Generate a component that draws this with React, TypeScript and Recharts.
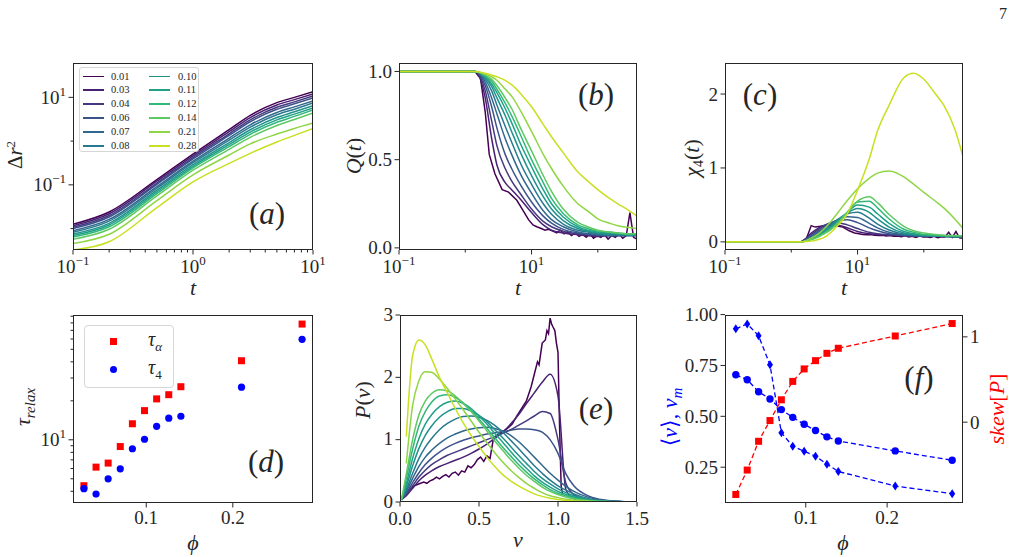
import React from 'react';
import {
    LineChart,
    Line,
    XAxis,
    YAxis,
    ScatterChart,
    Scatter,
    ComposedChart,
} from 'recharts';

const FONT = "'Liberation Serif', 'DejaVu Serif', serif";
const INK = '#262626';

// legend labels (packing fraction) and viridis colours
const phiLabels = ['0.01', '0.03', '0.04', '0.06', '0.07', '0.08', '0.10', '0.11', '0.12', '0.14', '0.21', '0.28'];
const curveColors = ['#440154', '#482173', '#45387f', '#3b528b', '#31668e', '#29798e', '#21918c', '#1fa187', '#32b67a', '#5ec962', '#8fd644', '#c8e020'];

// (a) mean square displacement, one row per phi
const tMsd = [0.1, 0.2, 0.5, 1, 2, 3, 5, 7, 10];
const msd = [
    [0.0126, 0.024, 0.132, 0.501, 1.82, 3.89, 7.59, 10.0, 13.5],
    [0.0116, 0.0218, 0.121, 0.459, 1.64, 3.45, 6.7, 8.87, 12.0],
    [0.0107, 0.0199, 0.11, 0.421, 1.47, 3.06, 5.92, 7.87, 10.7],
    [0.01, 0.0184, 0.103, 0.392, 1.35, 2.77, 5.33, 7.11, 9.71],
    [0.00895, 0.0162, 0.0912, 0.348, 1.17, 2.36, 4.52, 6.05, 8.32],
    [0.00826, 0.0148, 0.0836, 0.32, 1.05, 2.09, 3.99, 5.37, 7.41],
    [0.00752, 0.0132, 0.0753, 0.289, 0.927, 1.82, 3.45, 4.67, 6.47],
    [0.00692, 0.0121, 0.0689, 0.265, 0.834, 1.61, 3.05, 4.14, 5.75],
    [0.00638, 0.011, 0.0631, 0.243, 0.75, 1.43, 2.69, 3.67, 5.13],
    [0.00573, 0.00968, 0.0561, 0.216, 0.65, 1.22, 2.28, 3.13, 4.4],
    [0.00454, 0.00741, 0.0437, 0.169, 0.481, 0.865, 1.45, 1.95, 2.6],
    [0.00324, 0.00501, 0.0302, 0.117, 0.309, 0.525, 0.955, 1.35, 1.95],
];

// (b), (c): the noisy phi = 0.01 run is sampled more densely
const tDark = [0.1, 1.4, 1.7, 2, 2.3, 2.8, 3.6, 4.5, 6, 7.5, 9, 10.5, 12, 14, 16, 18, 21, 24, 27, 31, 35, 40, 46, 52, 59, 67, 76, 86, 98, 111, 126, 143, 162, 184, 209, 237, 269, 305, 346, 390];
const overlapDark = [1, 1, 0.96, 0.77, 0.53, 0.42, 0.33, 0.316, 0.27, 0.21, 0.16, 0.13, 0.12, 0.11, 0.1, 0.105, 0.095, 0.085, 0.1, 0.08, 0.09, 0.07, 0.085, 0.065, 0.075, 0.06, 0.08, 0.055, 0.07, 0.06, 0.075, 0.05, 0.07, 0.06, 0.08, 0.055, 0.07, 0.2, 0.06, 0.05];
const chiDark = [0, 0, 0.05, 0.22, 0.2, 0.21, 0.22, 0.22, 0.2, 0.15, 0.12, 0.11, 0.1, 0.095, 0.1, 0.09, 0.085, 0.09, 0.08, 0.085, 0.075, 0.08, 0.07, 0.085, 0.065, 0.075, 0.06, 0.08, 0.065, 0.07, 0.06, 0.075, 0.055, 0.07, 0.065, 0.13, 0.06, 0.14, 0.055, 0.05];

// rows for phi = 0.03 ... 0.28
const tRelax = [0.1, 1.4, 2, 2.5, 3, 4, 5, 7, 10, 15, 20, 30, 50, 70, 100, 150, 200, 300, 390];
const overlap = [
    [1, 1, 0.85, 0.62, 0.47, 0.37, 0.33, 0.27, 0.2, 0.13, 0.1, 0.085, 0.075, 0.07, 0.065, 0.07, 0.07, 0.075, 0.075],
    [1, 1, 0.89, 0.72, 0.58, 0.45, 0.38, 0.3, 0.22, 0.15, 0.12, 0.095, 0.08, 0.075, 0.07, 0.07, 0.07, 0.07, 0.07],
    [1, 1, 0.92, 0.8, 0.68, 0.53, 0.45, 0.35, 0.26, 0.18, 0.14, 0.105, 0.085, 0.08, 0.075, 0.07, 0.07, 0.07, 0.07],
    [1, 1, 0.94, 0.85, 0.76, 0.62, 0.53, 0.41, 0.31, 0.21, 0.16, 0.12, 0.09, 0.08, 0.075, 0.07, 0.07, 0.07, 0.07],
    [1, 1, 0.955, 0.89, 0.81, 0.69, 0.6, 0.47, 0.36, 0.25, 0.19, 0.135, 0.1, 0.09, 0.08, 0.075, 0.075, 0.075, 0.075],
    [1, 1, 0.965, 0.915, 0.85, 0.75, 0.66, 0.53, 0.41, 0.29, 0.22, 0.155, 0.11, 0.095, 0.085, 0.08, 0.08, 0.075, 0.075],
    [1, 1, 0.97, 0.93, 0.88, 0.79, 0.71, 0.58, 0.46, 0.33, 0.25, 0.175, 0.12, 0.1, 0.09, 0.085, 0.08, 0.075, 0.075],
    [1, 1, 0.975, 0.945, 0.9, 0.82, 0.75, 0.63, 0.5, 0.37, 0.28, 0.195, 0.13, 0.11, 0.095, 0.09, 0.085, 0.08, 0.08],
    [1, 1, 0.98, 0.955, 0.92, 0.85, 0.79, 0.67, 0.55, 0.41, 0.32, 0.22, 0.145, 0.12, 0.1, 0.09, 0.085, 0.08, 0.08],
    [1, 1, 0.985, 0.97, 0.95, 0.9, 0.86, 0.77, 0.66, 0.53, 0.45, 0.35, 0.25, 0.21, 0.165, 0.14, 0.125, 0.115, 0.11],
    [1, 1, 0.99, 0.98, 0.97, 0.95, 0.925, 0.87, 0.8, 0.7, 0.63, 0.54, 0.43, 0.38, 0.33, 0.28, 0.25, 0.21, 0.18],
];
const chi4 = [
    [0, 0, 0.12, 0.18, 0.22, 0.24, 0.23, 0.19, 0.14, 0.11, 0.1, 0.09, 0.085, 0.08, 0.08, 0.075, 0.075, 0.07, 0.07],
    [0, 0, 0.1, 0.16, 0.21, 0.26, 0.26, 0.23, 0.18, 0.13, 0.11, 0.095, 0.085, 0.08, 0.08, 0.075, 0.075, 0.07, 0.07],
    [0, 0, 0.08, 0.14, 0.19, 0.26, 0.29, 0.3, 0.26, 0.19, 0.15, 0.11, 0.09, 0.085, 0.08, 0.075, 0.075, 0.07, 0.07],
    [0, 0, 0.07, 0.12, 0.17, 0.25, 0.3, 0.34, 0.33, 0.25, 0.19, 0.13, 0.095, 0.085, 0.08, 0.075, 0.075, 0.07, 0.07],
    [0, 0, 0.06, 0.1, 0.15, 0.23, 0.3, 0.38, 0.4, 0.32, 0.24, 0.16, 0.105, 0.09, 0.085, 0.08, 0.075, 0.07, 0.07],
    [0, 0, 0.05, 0.09, 0.13, 0.21, 0.29, 0.39, 0.45, 0.4, 0.31, 0.2, 0.12, 0.1, 0.09, 0.08, 0.08, 0.075, 0.075],
    [0, 0, 0.04, 0.08, 0.12, 0.19, 0.27, 0.4, 0.5, 0.47, 0.38, 0.25, 0.14, 0.11, 0.095, 0.085, 0.08, 0.075, 0.075],
    [0, 0, 0.035, 0.07, 0.11, 0.18, 0.26, 0.4, 0.54, 0.55, 0.46, 0.31, 0.17, 0.13, 0.1, 0.09, 0.085, 0.08, 0.08],
    [0, 0, 0.03, 0.06, 0.1, 0.17, 0.25, 0.4, 0.55, 0.61, 0.53, 0.37, 0.21, 0.15, 0.12, 0.1, 0.09, 0.085, 0.08],
    [0, 0, 0.05, 0.1, 0.16, 0.28, 0.39, 0.56, 0.72, 0.86, 0.93, 0.96, 0.88, 0.78, 0.67, 0.55, 0.46, 0.3, 0.18],
    [0, 0, 0.01, 0.03, 0.05, 0.13, 0.22, 0.38, 0.7, 1.12, 1.5, 1.85, 2.22, 2.28, 2.2, 2.0, 1.85, 1.5, 1.15],
];

// (d) relaxation times
const phiD = [0.028, 0.042, 0.056, 0.07, 0.084, 0.098, 0.112, 0.126, 0.14, 0.21, 0.28];
const tauAlpha = [4.42, 6.15, 6.61, 8.87, 13.3, 16.8, 20.7, 22.3, 25.7, 40.8, 78.3];
const tau4 = [4.19, 3.81, 5.0, 5.97, 8.53, 10.1, 12.7, 14.7, 15.2, 25.5, 59.7];

// (e) speed distributions; phi = 0.01 sampled more densely
const vDark = [0.01, 0.03, 0.05, 0.07, 0.09, 0.11, 0.13, 0.15, 0.17, 0.19, 0.21, 0.23, 0.25, 0.27, 0.29, 0.31, 0.33, 0.35, 0.37, 0.39, 0.41, 0.43, 0.45, 0.47, 0.49, 0.51, 0.53, 0.55, 0.57, 0.59, 0.62, 0.65, 0.68, 0.71, 0.74, 0.77, 0.8, 0.83, 0.85, 0.87, 0.88, 0.9, 0.92, 0.93, 0.94, 0.95, 0.96, 0.97, 0.98, 0.99, 1.0, 1.01, 1.02, 1.03];
const pdfDark = [0.03, 0.1, 0.17, 0.22, 0.26, 0.28, 0.3, 0.32, 0.3, 0.34, 0.36, 0.4, 0.37, 0.41, 0.44, 0.4, 0.46, 0.48, 0.43, 0.5, 0.48, 0.58, 0.55, 0.6, 0.68, 0.72, 0.65, 0.74, 0.7, 1.0, 1.08, 1.13, 1.18, 1.25, 1.38, 1.5, 1.62, 1.85, 2.05, 2.25, 2.2, 2.55, 2.6, 2.75, 2.7, 2.95, 2.85, 2.8, 2.75, 2.55, 2.4, 1.2, 0.25, 0.12];
const vGrid = [0.01, 0.04, 0.08, 0.12, 0.16, 0.2, 0.25, 0.3, 0.35, 0.4, 0.45, 0.5, 0.55, 0.6, 0.65, 0.7, 0.75, 0.8, 0.85, 0.9, 0.95, 1.0, 1.05, 1.1, 1.2, 1.3, 1.4, 1.5];
const speedPdf: (number | null)[][] = [
    [0.04, 0.1, 0.22, 0.34, 0.43, 0.5, 0.57, 0.62, 0.67, 0.72, 0.78, 0.85, 0.93, 1.02, 1.12, 1.25, 1.4, 1.58, 1.75, 1.92, 2.05, 1.7, 0.2, 0.05, 0.01, 0, 0, 0],
    [0.04, 0.12, 0.26, 0.4, 0.51, 0.6, 0.68, 0.75, 0.8, 0.85, 0.9, 0.95, 1.0, 1.05, 1.1, 1.16, 1.23, 1.3, 1.38, 1.45, 1.42, 1.0, 0.3, 0.12, 0.03, 0.01, 0, 0],
    [0.04, 0.14, 0.31, 0.47, 0.6, 0.7, 0.8, 0.88, 0.94, 0.99, 1.03, 1.06, 1.09, 1.11, 1.13, 1.15, 1.17, 1.17, 1.16, 1.12, 1.0, 0.78, 0.45, 0.26, 0.09, 0.03, 0.01, 0],
    [0.04, 0.17, 0.38, 0.57, 0.72, 0.83, 0.94, 1.03, 1.09, 1.14, 1.17, 1.19, 1.2, 1.18, 1.14, 1.07, 0.97, 0.85, 0.72, 0.59, 0.46, 0.35, 0.25, 0.17, 0.07, 0.025, 0.008, 0],
    [0.04, 0.2, 0.46, 0.7, 0.88, 1.02, 1.16, 1.26, 1.33, 1.37, 1.38, 1.36, 1.31, 1.23, 1.12, 0.99, 0.86, 0.72, 0.58, 0.46, 0.35, 0.26, 0.19, 0.13, 0.05, 0.018, 0.006, 0],
    [0.04, 0.25, 0.58, 0.86, 1.07, 1.22, 1.36, 1.45, 1.5, 1.5, 1.46, 1.39, 1.29, 1.16, 1.03, 0.89, 0.75, 0.62, 0.49, 0.38, 0.29, 0.21, 0.15, 0.1, 0.04, 0.014, 0.005, 0],
    [0.04, 0.3, 0.7, 1.02, 1.25, 1.4, 1.53, 1.6, 1.62, 1.58, 1.5, 1.38, 1.25, 1.1, 0.96, 0.81, 0.67, 0.54, 0.42, 0.32, 0.24, 0.17, 0.12, 0.08, 0.03, 0.011, 0.004, 0],
    [0.04, 0.38, 0.85, 1.22, 1.45, 1.6, 1.7, 1.72, 1.68, 1.59, 1.47, 1.33, 1.18, 1.03, 0.88, 0.74, 0.6, 0.48, 0.37, 0.28, 0.2, 0.14, 0.1, 0.065, 0.025, 0.009, 0.003, 0],
    [0.04, 0.45, 1.0, 1.4, 1.62, 1.74, 1.8, 1.78, 1.7, 1.58, 1.45, 1.3, 1.14, 0.98, 0.83, 0.68, 0.55, 0.43, 0.33, 0.24, 0.17, 0.12, 0.08, 0.05, 0.02, 0.007, 0.002, 0],
    [null, 0.62, 1.55, 1.95, 2.09, 2.08, 1.97, 1.82, 1.65, 1.48, 1.3, 1.12, 0.95, 0.79, 0.64, 0.51, 0.4, 0.3, 0.22, 0.15, 0.1, 0.07, 0.045, 0.03, 0.012, 0.004, 0.001, 0],
    [null, 1.05, 2.35, 2.6, 2.52, 2.3, 2.0, 1.75, 1.5, 1.27, 1.07, 0.89, 0.72, 0.57, 0.44, 0.34, 0.26, 0.19, 0.13, 0.09, 0.06, 0.04, 0.025, 0.015, 0.006, 0.002, 0.001, 0],
];

// (f) mean speed, modal speed and skewness
const phiF = [0.014, 0.028, 0.042, 0.056, 0.07, 0.084, 0.098, 0.112, 0.126, 0.14, 0.21, 0.28];
const vMean = [0.704, 0.68, 0.621, 0.585, 0.533, 0.495, 0.461, 0.43, 0.399, 0.379, 0.33, 0.284];
const vMode = [0.93, 0.954, 0.896, 0.753, 0.419, 0.353, 0.328, 0.304, 0.265, 0.229, 0.157, 0.12];
const skewP = [-0.847, -0.561, -0.224, 0.019, 0.262, 0.478, 0.624, 0.721, 0.807, 0.866, 1.01, 1.156];

type Row = Record<string, number | null>;
// series k goes to key s{k + first}
const toRows = (xs: number[], series: (number | null)[][], first = 0): Row[] =>
    xs.map((x, i) => {
        const r: Row = { x };
        series.forEach((s, k) => {
            r['s' + (k + first)] = s[i];
        });
        return r;
    });
const pairRows = (xs: number[], ys: number[]) => xs.map((x, i) => ({ x, y: ys[i] }));

const msdRows = toRows(tMsd, msd);
const overlapRows = toRows(tRelax, overlap, 1);
const chiRows = toRows(tRelax, chi4, 1);
const pdfRows = toRows(vGrid, speedPdf, 1);
const fRows = phiF.map((x, i) => ({ x, mean: vMean[i], mode: vMode[i], skew: skewP[i] }));

// plot boxes in page pixels
type Box = { left: number; top: number; width: number; height: number };
const boxA: Box = { left: 73, top: 63, width: 240, height: 187 };
const boxB: Box = { left: 399, top: 63, width: 238, height: 187 };
const boxC: Box = { left: 725, top: 63, width: 238, height: 187 };
const boxD: Box = { left: 73, top: 315, width: 240, height: 188 };
const boxE: Box = { left: 400, top: 315, width: 237, height: 187 };
const boxF: Box = { left: 725, top: 315, width: 238, height: 188 };

// axes are 1px wide/high (a 0 size axis is not drawn), margins absorb that pixel
const PAD = 60;
const marginFor = (rightAxis = false) => ({ top: 10, right: rightAxis ? PAD - 1 : PAD, bottom: 39, left: PAD - 1 });

const logLabel = (v: number) => {
    const e = Math.round(Math.log10(v));
    return (
        <>
            <tspan>10</tspan>
            <tspan dy={-8} fontSize={13}>{e < 0 ? '\u2212' + -e : String(e)}</tspan>
        </>
    );
};
const fixed = (d: number) => (v: number) => v.toFixed(d);

// drop: baseline offset of bottom labels; lift: baseline offset of side labels
const makeTick = (side: 'bottom' | 'left' | 'right', label: (v: number) => React.ReactNode, majors?: number[], drop = 21, lift = 6.5) =>
    (props: any) => {
        const { x, y, payload } = props;
        const v = payload.value as number;
        const isMajor = !majors || majors.some((m) => Math.abs(m - v) < 1e-9);
        const len = isMajor ? 4.5 : 2.5;
        const common = { fontFamily: FONT, fontSize: 19, fill: INK };
        if (side === 'bottom') {
            return (
                <g>
                    <line x1={x} y1={y} x2={x} y2={y + len} stroke={INK} strokeWidth={1} />
                    {isMajor && (
                        <text x={x} y={y + drop} textAnchor="middle" {...common}>{label(v)}</text>
                    )}
                </g>
            );
        }
        const dir = side === 'left' ? -1 : 1;
        return (
            <g>
                <line x1={x} y1={y} x2={x + dir * len} y2={y} stroke={INK} strokeWidth={1} />
                {isMajor && (
                    <text
                        x={x + dir * 7}
                        y={y + lift}
                        textAnchor={side === 'left' ? 'end' : 'start'}
                        {...common}
                    >
                        {label(v)}
                    </text>
                )}
            </g>
        );
    };

const chartSize = (b: Box) => ({ width: b.width + 2 * PAD, height: b.height + 50 });
const Place: React.FC<{ b: Box; children: React.ReactNode }> = ({ b, children }) => (
    <div style={{ position: 'absolute', left: b.left - PAD, top: b.top - 10 }}>{children}</div>
);

const curveLines = (first = 0) =>
    curveColors.slice(first).map((c, j) => (
        <Line
            key={j + first}
            dataKey={'s' + (j + first)}
            type="monotone"
            stroke={c}
            strokeWidth={1.5}
            dot={false}
            isAnimationActive={false}
        />
    ));
const darkLine = (rows: { x: number; y: number }[]) => (
    <Line
        key="dark"
        data={rows}
        dataKey="y"
        type="linear"
        stroke={curveColors[0]}
        strokeWidth={1.5}
        dot={false}
        isAnimationActive={false}
    />
);

const axisCommon = { axisLine: false, tickLine: false, tickSize: 0, tickMargin: 0, interval: 0 as const, allowDataOverflow: true };

const aMinorX = [0.2, 0.3, 0.4, 0.5, 0.6, 0.7, 0.8, 0.9, 1, 2, 3, 4, 5, 6, 7, 8, 9, 10];
const dTicksY = [4, 5, 6, 7, 8, 9, 10, 20, 30, 40, 50, 60, 70, 80, 90];

const sq = (color: string, s: number) => (p: any) => (
    <rect x={p.cx - s / 2} y={p.cy - s / 2} width={s} height={s} fill={color} />
);
const dotC = (color: string, r: number) => (p: any) => (
    <circle cx={p.cx} cy={p.cy} r={r} fill={color} />
);

const App: React.FC = () => {
    const frames = [boxA, boxB, boxC, boxD, boxE, boxF];
    return (
        <div style={{ position: 'absolute', left: 0, top: 0, width: 1021, height: 557, background: '#fff', overflow: 'hidden', fontFamily: FONT }}>
            {/* (a) */}
            <Place b={boxA}>
                <LineChart {...chartSize(boxA)} margin={marginFor()} data={msdRows}>
                    <XAxis dataKey="x" type="number" scale="log" domain={[0.1, 10]} ticks={[0.1, ...aMinorX]} height={1}
                        tick={makeTick('bottom', logLabel, [0.1, 1, 10], 23)} {...axisCommon} />
                    <YAxis type="number" scale="log" domain={[0.00324, 61]} ticks={[0.01, 0.1, 1, 10]} width={1}
                        tick={makeTick('left', logLabel, [0.1, 10])} {...axisCommon} />
                    {curveLines()}
                </LineChart>
            </Place>

            {/* (b) */}
            <Place b={boxB}>
                <LineChart {...chartSize(boxB)} margin={marginFor()} data={overlapRows}>
                    <XAxis dataKey="x" type="number" scale="log" domain={[0.1, 390]} ticks={[0.1, 1, 10, 100]} height={1}
                        tick={makeTick('bottom', logLabel, [0.1, 10], 23)} {...axisCommon} />
                    <YAxis type="number" domain={[-0.012, 1.048]} ticks={[0, 0.5, 1]} width={1}
                        tick={makeTick('left', fixed(1))} {...axisCommon} />
                    {darkLine(pairRows(tDark, overlapDark))}
                    {curveLines(1)}
                </LineChart>
            </Place>

            {/* (c) */}
            <Place b={boxC}>
                <LineChart {...chartSize(boxC)} margin={marginFor()} data={chiRows}>
                    <XAxis dataKey="x" type="number" scale="log" domain={[0.1, 390]} ticks={[0.1, 1, 10, 100]} height={1}
                        tick={makeTick('bottom', logLabel, [0.1, 10], 23)} {...axisCommon} />
                    <YAxis type="number" domain={[-0.11, 2.42]} ticks={[0, 1, 2]} width={1}
                        tick={makeTick('left', fixed(0))} {...axisCommon} />
                    {darkLine(pairRows(tDark, chiDark))}
                    {curveLines(1)}
                </LineChart>
            </Place>

            {/* (d) */}
            <Place b={boxD}>
                <ScatterChart {...chartSize(boxD)} margin={marginFor()}>
                    <XAxis dataKey="x" type="number" domain={[0.0154, 0.2926]} ticks={[0.1, 0.2]} height={1}
                        tick={makeTick('bottom', fixed(1))} {...axisCommon} />
                    <YAxis dataKey="y" type="number" scale="log" domain={[3.25, 92]} ticks={dTicksY} width={1}
                        tick={makeTick('left', logLabel, [10])} {...axisCommon} />
                    <Scatter data={pairRows(phiD, tauAlpha)} shape={sq('#ff0000', 7)} isAnimationActive={false} />
                    <Scatter data={pairRows(phiD, tau4)} shape={dotC('#0000ff', 3.6)} isAnimationActive={false} />
                </ScatterChart>
            </Place>

            {/* (e) */}
            <Place b={boxE}>
                <LineChart {...chartSize(boxE)} margin={marginFor()} data={pdfRows}>
                    <XAxis dataKey="x" type="number" domain={[0, 1.5]} ticks={[0, 0.5, 1, 1.5]} height={1}
                        tick={makeTick('bottom', fixed(1), undefined, 22.5)} {...axisCommon} />
                    <YAxis type="number" domain={[0, 3]} ticks={[0, 1, 2, 3]} width={1}
                        tick={makeTick('left', fixed(0), undefined, 21, 5.5)} {...axisCommon} />
                    {darkLine(pairRows(vDark, pdfDark))}
                    {curveLines(1)}
                </LineChart>
            </Place>

            {/* (f) */}
            <Place b={boxF}>
                <ComposedChart {...chartSize(boxF)} margin={marginFor(true)} data={fRows}>
                    <XAxis dataKey="x" type="number" domain={[0.0007, 0.2933]} ticks={[0.1, 0.2]} height={1}
                        tick={makeTick('bottom', fixed(1))} {...axisCommon} />
                    <YAxis yAxisId="left" type="number" domain={[0.074, 0.998]} ticks={[0.25, 0.5, 0.75, 1]} width={1}
                        tick={makeTick('left', fixed(2))} {...axisCommon} />
                    <YAxis yAxisId="right" orientation="right" type="number" domain={[-0.947, 1.256]} ticks={[0, 1]} width={1}
                        tick={makeTick('right', fixed(0))} {...axisCommon} />
                    <Line yAxisId="left" dataKey="mean" type="linear" stroke="#0000ff" strokeWidth={1.3} strokeDasharray="5 3"
                        dot={(p: any) => <circle key={'c' + p.index} cx={p.cx} cy={p.cy} r={3.7} fill="#0000ff" />}
                        isAnimationActive={false} />
                    <Line yAxisId="left" dataKey="mode" type="linear" stroke="#0000ff" strokeWidth={1.3} strokeDasharray="5 3"
                        dot={(p: any) => (
                            <polygon key={'d' + p.index}
                                points={`${p.cx},${p.cy - 4.5} ${p.cx + 3},${p.cy} ${p.cx},${p.cy + 4.5} ${p.cx - 3},${p.cy}`}
                                fill="#0000ff" />
                        )}
                        isAnimationActive={false} />
                    <Line yAxisId="right" dataKey="skew" type="linear" stroke="#ff0000" strokeWidth={1.3} strokeDasharray="5 3"
                        dot={(p: any) => <rect key={'s' + p.index} x={p.cx - 3.5} y={p.cy - 3.5} width={7} height={7} fill="#ff0000" />}
                        isAnimationActive={false} />
                </ComposedChart>
            </Place>

            {/* legend (a) */}
            <div style={{ position: 'absolute', left: 79, top: 67, width: 120, height: 85, border: '1px solid #d6d6d6', borderRadius: 3, background: 'rgba(255,255,255,0.85)', boxSizing: 'border-box' }}>
                {phiLabels.map((lab, i) => {
                    const col = i < 6 ? 0 : 1;
                    const row = i % 6;
                    const cy = 8.5 + row * 13.9;
                    return (
                        <React.Fragment key={lab}>
                            <div style={{ position: 'absolute', left: col ? 69 : 3, top: cy - 1, width: 21, height: 1.6, background: curveColors[i] }} />
                            <div style={{ position: 'absolute', left: col ? 98 : 31, top: cy - 7, fontSize: 10.5, lineHeight: '14px', color: INK }}>{lab}</div>
                        </React.Fragment>
                    );
                })}
            </div>

            {/* legend (d) */}
            <div style={{ position: 'absolute', left: 84, top: 325, width: 90, height: 63, border: '1px solid #d6d6d6', borderRadius: 4, background: 'rgba(255,255,255,0.85)', boxSizing: 'border-box' }}>
                <div style={{ position: 'absolute', left: 24.5, top: 12, width: 7, height: 7, background: '#ff0000' }} />
                <div style={{ position: 'absolute', left: 24.5, top: 40, width: 7.2, height: 7.2, borderRadius: '50%', background: '#0000ff' }} />
                <div style={{ position: 'absolute', left: 63, top: 2, fontSize: 20, fontStyle: 'italic', color: INK }}>
                    τ<sub style={{ fontSize: 13 }}>α</sub>
                </div>
                <div style={{ position: 'absolute', left: 63, top: 30, fontSize: 20, fontStyle: 'italic', color: INK }}>
                    τ<sub style={{ fontSize: 13, fontStyle: 'normal' }}>4</sub>
                </div>
            </div>

            {/* frames, axis labels and panel tags */}
            <svg width={1021} height={557} style={{ position: 'absolute', left: 0, top: 0, pointerEvents: 'none' }} fontFamily={FONT} fill={INK}>
                {frames.map((b, i) => (
                    <rect key={i} x={b.left + 0.5} y={b.top + 0.5} width={b.width - 1} height={b.height - 1} fill="none" stroke={INK} strokeWidth={1} />
                ))}
                <text x={1003} y={19} fontSize={16} textAnchor="middle">7</text>

                <text transform="translate(22,155) rotate(-90)" textAnchor="middle" fontSize={21}>
                    Δ<tspan fontStyle="italic">r</tspan><tspan dy={-7} fontSize={13}>2</tspan>
                </text>
                <text transform="translate(361,156) rotate(-90)" textAnchor="middle" fontSize={22}>
                    <tspan fontStyle="italic">Q</tspan>(<tspan fontStyle="italic">t</tspan>)
                </text>
                <text transform="translate(699,158) rotate(-90)" textAnchor="middle" fontSize={22}>
                    <tspan fontStyle="italic">χ</tspan><tspan dy={4} fontSize={14}>4</tspan><tspan dy={-4}>(</tspan><tspan fontStyle="italic">t</tspan>)
                </text>
                <text transform="translate(30,407) rotate(-90)" textAnchor="middle" fontSize={22}>
                    <tspan fontStyle="italic">τ</tspan><tspan dy={5} fontSize={15} fontStyle="italic">relax</tspan>
                </text>
                <text transform="translate(370,400) rotate(-90)" textAnchor="middle" fontSize={22}>
                    <tspan fontStyle="italic">P</tspan>(<tspan fontStyle="italic">v</tspan>)
                </text>
                <text transform="translate(677,417) rotate(-90)" textAnchor="middle" fontSize={22} fill="#0000ff">
                    ⟨<tspan fontStyle="italic">v</tspan>⟩, <tspan fontStyle="italic">v</tspan><tspan dy={5} fontSize={15} fontStyle="italic">m</tspan>
                </text>
                <text transform="translate(1004,409) rotate(-90)" textAnchor="middle" fontSize={22} fill="#ff0000">
                    <tspan fontStyle="italic">skew</tspan>[<tspan fontStyle="italic">P</tspan>]
                </text>

                <text x={193} y={295} textAnchor="middle" fontSize={22} fontStyle="italic">t</text>
                <text x={518} y={295} textAnchor="middle" fontSize={22} fontStyle="italic">t</text>
                <text x={844} y={295} textAnchor="middle" fontSize={22} fontStyle="italic">t</text>
                <text x={193} y={550} textAnchor="middle" fontSize={22} fontStyle="italic">ϕ</text>
                <text x={518} y={547} textAnchor="middle" fontSize={22} fontStyle="italic">v</text>
                <text x={843} y={550} textAnchor="middle" fontSize={22} fontStyle="italic">ϕ</text>

                {[
                    ['a', 267, 214],
                    ['b', 596, 95],
                    ['c', 760, 95],
                    ['d', 266, 462],
                    ['e', 596, 409],
                    ['f', 919, 378],
                ].map(([l, x, y]) => (
                    <text key={l as string} x={x as number} y={(y as number) + 10} textAnchor="middle" fontSize={31}>
                        (<tspan fontStyle="italic">{l}</tspan>)
                    </text>
                ))}
            </svg>
        </div>
    );
};

export default App;
